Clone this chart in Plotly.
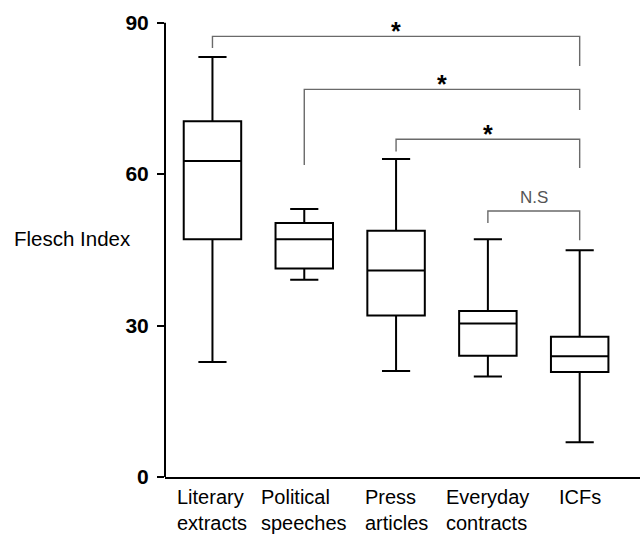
import plotly.graph_objects as go

# ---- data ----
categories = ["Literary<br>extracts", "Political<br>speeches", "Press<br>articles",
              "Everyday<br>contracts", "ICFs"]
lower_whisker = [22.8, 39.1, 21.0, 19.9, 6.9]
q1_values = [47.1, 41.3, 32.0, 24.0, 20.8]
medians = [62.6, 47.1, 40.9, 30.4, 23.9]
q3_values = [70.5, 50.3, 48.8, 32.9, 27.8]
upper_whisker = [83.2, 53.1, 63.0, 47.1, 44.9]

y_ticks = [0, 30, 60, 90]

bracket_from = [0, 1, 2, 3]
bracket_to = [4, 4, 4, 4]
bracket_level = [87.3, 76.8, 66.9, 52.7]
bracket_left_end = [85.0, 61.8, 64.5, 50.3]
bracket_right_end = [81.4, 72.7, 61.2, 46.9]
bracket_labels = ["*", "*", "*", "N.S"]

fig = go.Figure()

for i, cat in enumerate(categories):
    fig.add_trace(go.Box(
        x=[i], q1=[q1_values[i]], median=[medians[i]], q3=[q3_values[i]],
        lowerfence=[lower_whisker[i]], upperfence=[upper_whisker[i]],
        width=0.626, whiskerwidth=0.49, boxpoints=False,
        line=dict(color="black", width=2), fillcolor="white",
        showlegend=False, hoverinfo="skip",
    ))

for a, b, lvl, le, re_, lab in zip(bracket_from, bracket_to, bracket_level,
                                   bracket_left_end, bracket_right_end, bracket_labels):
    fig.add_trace(go.Scatter(
        x=[a, a, b, b], y=[le, lvl, lvl, re_], mode="lines",
        line=dict(color="#6a6a6a", width=1.4), showlegend=False, hoverinfo="skip",
    ))
    if lab == "*":
        fig.add_annotation(x=(a + b) / 2, y=lvl, xref="x", yref="y", text="<b>*</b>",
                           showarrow=False, yanchor="bottom", yshift=-11,
                           font=dict(family="Arial", size=25, color="black"))
    else:
        fig.add_annotation(x=(a + b) / 2, y=lvl, xref="x", yref="y", text=lab,
                           showarrow=False, yanchor="bottom", yshift=2,
                           font=dict(family="Arial", size=17, color="#555555"))

# category labels (left-aligned two-line blocks)
for i, cat in enumerate(categories):
    fig.add_annotation(x=i, y=0, xref="x", yref="paper", text=cat, showarrow=False,
                       xanchor="center", yanchor="top", align="left", yshift=-7,
                       font=dict(family="Arial", size=20, color="black"))

# y axis title
fig.add_annotation(x=0, y=47.3, xref="paper", yref="y", text="Flesch Index",
                   showarrow=False, xanchor="right", xshift=-32,
                   font=dict(family="Arial", size=20.5, color="black"))

# y axis line from 0 to 90
fig.add_shape(type="line", xref="paper", yref="y", x0=0, x1=0, y0=y_ticks[0], y1=y_ticks[-1],
              line=dict(color="black", width=2))

fig.update_layout(
    width=640, height=534, plot_bgcolor="white", paper_bgcolor="white",
    margin=dict(l=165, r=0, t=0, b=57),
    xaxis=dict(range=[-0.517, 4.657], showgrid=False, zeroline=False, showline=True,
               linecolor="black", linewidth=2, showticklabels=False, ticks=""),
    yaxis=dict(range=[0, 94.5], tickvals=y_ticks, showgrid=False, zeroline=False,
               showline=False, ticks="outside", ticklen=7, tickwidth=2, tickcolor="black",
               ticklabelstandoff=4,
               tickfont=dict(family="Arial", size=21, color="black", weight="bold")),
)

fig.write_html("out.html", config={"displayModeBar": False},
               post_script="document.body.style.margin='0px';")
